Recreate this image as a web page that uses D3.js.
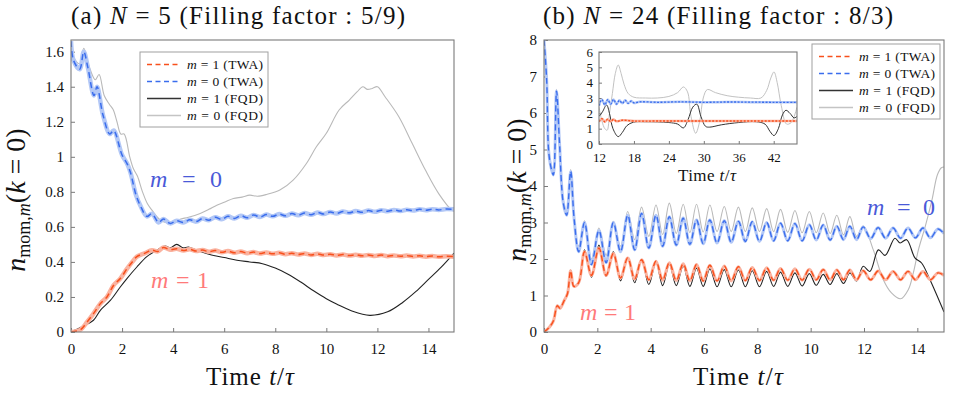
<!DOCTYPE html>
<html>
<head>
<meta charset="utf-8">
<script src="https://cdn.jsdelivr.net/npm/d3@7"></script>
<style>
body { margin: 0; background: #fff; }
</style>
</head>
<body>
<div id="chart"></div>
<script>
// values, [t, n]
var leftM0Twa = [[0,1.66],[0.1,1.55],[0.34,1.5],[0.5,1.6],[0.66,1.51],[0.9,1.35],[1.02,1.4],[1.25,1.24],[1.52,1.13],[1.67,1.15],[2.0,1.01],[2.2,0.96],[2.33,0.91],[2.55,0.78],[2.72,0.72],[2.97,0.66],[3.17,0.675],[3.43,0.625],[3.62,0.645],[3.88,0.62],[4.14,0.635],[4.4,0.625],[4.65,0.64],[4.9,0.63],[5.15,0.648],[5.4,0.638],[5.65,0.655],[5.9,0.643],[6.15,0.66],[6.4,0.648],[6.65,0.664],[6.9,0.652],[7.15,0.668],[7.4,0.656],[7.65,0.67],[7.9,0.66],[8.15,0.673],[8.4,0.663],[8.65,0.676],[8.9,0.666],[9.15,0.679],[9.4,0.669],[9.65,0.682],[9.9,0.673],[10.15,0.685],[10.4,0.676],[10.65,0.688],[10.9,0.68],[11.15,0.69],[11.4,0.683],[11.65,0.693],[11.9,0.686],[12.15,0.695],[12.4,0.689],[12.65,0.697],[12.9,0.691],[13.15,0.698],[13.4,0.693],[13.65,0.7],[13.9,0.695],[14.15,0.701],[14.4,0.697],[14.7,0.702],[15,0.7]];
var leftM0Fqd = [[0,1.66],[0.1,1.57],[0.34,1.53],[0.5,1.62],[0.7,1.52],[0.95,1.44],[1.1,1.47],[1.3,1.35],[1.5,1.3],[1.65,1.27],[1.8,1.2],[1.95,1.13],[2.08,1.13],[2.3,1.0],[2.45,0.93],[2.6,0.89],[2.8,0.8],[3.0,0.73],[3.2,0.69],[3.45,0.645],[3.7,0.625],[4.0,0.63],[4.3,0.645],[4.6,0.655],[5.06,0.677],[5.4,0.7],[5.71,0.724],[6.0,0.74],[6.36,0.762],[6.7,0.77],[7.0,0.781],[7.3,0.775],[7.66,0.785],[8.18,0.81],[8.7,0.867],[9.22,0.962],[9.61,1.057],[10.0,1.134],[10.5,1.267],[10.9,1.324],[11.2,1.37],[11.43,1.4],[11.6,1.385],[11.8,1.39],[12.0,1.4],[12.3,1.343],[12.84,1.229],[13.36,1.077],[13.88,0.924],[14.4,0.79],[14.92,0.695],[15,0.69]];
var leftM1Twa = [[0,0],[0.36,0.012],[0.63,0.057],[0.88,0.105],[1.15,0.162],[1.41,0.2],[1.67,0.267],[1.93,0.305],[2.19,0.36],[2.4,0.4],[2.58,0.43],[2.9,0.45],[3.17,0.467],[3.4,0.46],[3.62,0.482],[3.88,0.47],[4.14,0.475],[4.4,0.465],[4.65,0.472],[4.9,0.462],[5.15,0.468],[5.4,0.458],[5.65,0.465],[5.9,0.455],[6.15,0.462],[6.4,0.452],[6.65,0.459],[6.9,0.45],[7.15,0.456],[7.4,0.448],[7.65,0.454],[7.9,0.446],[8.15,0.452],[8.4,0.444],[8.65,0.45],[8.9,0.442],[9.15,0.448],[9.4,0.44],[9.65,0.446],[9.9,0.439],[10.15,0.444],[10.4,0.437],[10.65,0.442],[10.9,0.436],[11.15,0.441],[11.4,0.435],[11.65,0.44],[11.9,0.434],[12.15,0.439],[12.4,0.433],[12.65,0.437],[12.9,0.432],[13.15,0.436],[13.4,0.431],[13.65,0.435],[13.9,0.43],[14.15,0.434],[14.4,0.429],[14.7,0.433],[15,0.43]];
var leftM1Fqd = [[0,0],[0.43,0.03],[0.88,0.067],[1.15,0.124],[1.54,0.18],[1.93,0.257],[2.19,0.305],[2.58,0.371],[2.97,0.43],[3.36,0.467],[3.69,0.49],[3.88,0.48],[4.14,0.5],[4.4,0.48],[4.6,0.485],[5.0,0.462],[5.5,0.44],[6.0,0.425],[6.5,0.41],[7.0,0.4],[7.5,0.39],[8.0,0.365],[8.5,0.33],[9.0,0.285],[9.5,0.235],[10.0,0.19],[10.4,0.16],[11.0,0.12],[11.7,0.095],[12.4,0.115],[13.0,0.17],[13.5,0.23],[14.0,0.3],[14.5,0.37],[15,0.45]];

var rightM0Twa = [[0,8.0],[0.1,6.9],[0.17,5.0],[0.25,4.55],[0.35,4.3],[0.47,6.6],[0.58,5.2],[0.72,3.55],[0.85,3.2],[1.0,4.4],[1.13,3.1],[1.3,2.2],[1.52,3.0],[1.78,1.85],[2.06,2.78],[2.33,1.9],[2.6,3.0],[2.87,2.2],[3.14,3.2],[3.4,2.25],[3.66,3.25],[3.93,2.3],[4.2,3.2],[4.45,2.35],[4.7,3.16],[4.96,2.38],[5.22,3.12],[5.47,2.4],[5.72,3.07],[5.97,2.42],[6.22,3.07],[6.49,2.44],[6.76,3.05],[7.02,2.46],[7.29,3.03],[7.55,2.48],[7.81,3.02],[8.08,2.48],[8.35,3.0],[8.61,2.5],[8.87,2.98],[9.14,2.5],[9.41,2.97],[9.68,2.5],[9.95,2.94],[10.21,2.52],[10.47,2.93],[10.73,2.52],[10.98,2.9],[11.23,2.53],[11.47,2.9],[11.72,2.53],[11.97,2.88],[12.25,2.56],[12.53,2.86],[12.81,2.57],[13.09,2.85],[13.37,2.57],[13.65,2.85],[13.93,2.58],[14.21,2.85],[14.49,2.58],[14.77,2.82],[15,2.7]];
var rightM0Fqd = [[0,8.0],[0.1,7.0],[0.17,5.1],[0.25,4.65],[0.35,4.4],[0.47,6.65],[0.58,5.3],[0.72,3.65],[0.85,3.3],[1.0,4.45],[1.13,3.2],[1.3,2.35],[1.52,3.05],[1.78,2.0],[2.06,2.85],[2.33,2.1],[2.6,3.03],[2.87,2.35],[3.14,3.3],[3.4,2.53],[3.66,3.42],[3.93,2.62],[4.2,3.48],[4.45,2.67],[4.7,3.53],[4.96,2.7],[5.22,3.5],[5.47,2.72],[5.72,3.5],[5.97,2.74],[6.22,3.48],[6.49,2.75],[6.76,3.44],[7.02,2.75],[7.29,3.42],[7.55,2.75],[7.81,3.4],[8.08,2.75],[8.35,3.38],[8.61,2.75],[8.87,3.36],[9.14,2.73],[9.41,3.33],[9.68,2.72],[9.95,3.3],[10.21,2.72],[10.47,3.26],[10.73,2.7],[10.98,3.2],[11.23,2.66],[11.47,3.16],[11.72,2.62],[11.97,2.9],[12.35,2.25],[12.72,1.44],[13.03,1.07],[13.37,0.91],[13.66,1.16],[13.85,1.62],[14.04,2.25],[14.3,2.9],[14.55,3.62],[14.75,4.3],[14.9,4.5],[15,4.52]];
var rightM1Twa = [[0,0],[0.2,0.13],[0.35,0.3],[0.5,0.72],[0.6,0.65],[0.75,0.85],[0.88,1.05],[1.0,1.68],[1.12,1.25],[1.3,1.35],[1.52,2.2],[1.78,1.55],[2.06,2.3],[2.33,1.55],[2.6,2.15],[2.87,1.48],[3.14,2.03],[3.4,1.45],[3.66,1.98],[3.93,1.43],[4.2,1.94],[4.45,1.42],[4.7,1.9],[4.96,1.41],[5.22,1.87],[5.47,1.4],[5.72,1.85],[5.97,1.4],[6.22,1.83],[6.49,1.4],[6.76,1.81],[7.02,1.4],[7.29,1.79],[7.55,1.41],[7.81,1.77],[8.08,1.41],[8.35,1.76],[8.61,1.42],[8.87,1.74],[9.14,1.42],[9.41,1.73],[9.68,1.42],[9.95,1.72],[10.21,1.43],[10.47,1.71],[10.73,1.43],[10.98,1.7],[11.23,1.43],[11.47,1.7],[11.72,1.43],[11.97,1.68],[12.25,1.43],[12.53,1.67],[12.81,1.43],[13.09,1.66],[13.37,1.43],[13.65,1.66],[13.93,1.43],[14.21,1.66],[14.49,1.43],[14.77,1.62],[15,1.55]];
var rightM1Fqd = [[0,0],[0.2,0.12],[0.35,0.28],[0.5,0.73],[0.6,0.64],[0.75,0.85],[0.88,1.05],[1.0,1.7],[1.12,1.25],[1.3,1.33],[1.52,2.25],[1.78,1.5],[2.06,2.38],[2.33,1.52],[2.6,2.2],[2.87,1.4],[3.14,2.03],[3.4,1.35],[3.66,1.98],[3.93,1.3],[4.2,1.91],[4.45,1.27],[4.7,1.85],[4.96,1.27],[5.22,1.8],[5.47,1.25],[5.72,1.75],[5.97,1.25],[6.22,1.73],[6.49,1.24],[6.76,1.71],[7.02,1.24],[7.29,1.7],[7.55,1.24],[7.81,1.68],[8.08,1.24],[8.35,1.66],[8.61,1.25],[8.87,1.64],[9.14,1.25],[9.41,1.62],[9.68,1.26],[9.95,1.6],[10.21,1.28],[10.47,1.58],[10.73,1.3],[10.98,1.6],[11.23,1.33],[11.47,1.62],[11.72,1.4],[11.97,1.8],[12.22,1.66],[12.54,2.25],[12.79,2.1],[13.16,2.57],[13.35,2.44],[13.6,2.53],[13.91,2.03],[14.16,1.89],[14.47,1.44],[15,0.55]];

// inset: long-time run of N = 24
var insetM0Twa = [[12,2.5],[12.5,2.9],[13,2.55],[13.5,2.9],[14,2.6],[14.5,2.9],[15,2.6],[15.5,2.85],[16,2.65],[16.5,2.85],[17,2.65],[17.5,2.8],[18,2.68],[19,2.75],[22,2.72],[26,2.75],[30,2.72],[34,2.74],[38,2.73],[42,2.72],[46,2.72]];
var insetM1Twa = [[12,1.45],[12.5,1.65],[13,1.45],[13.5,1.62],[14,1.47],[14.5,1.6],[15,1.48],[16,1.55],[18,1.5],[22,1.5],[30,1.5],[38,1.5],[46,1.5]];
var insetM0Fqd = [[12,2.4],[12.5,1.5],[13,1.0],[13.4,0.9],[13.8,2.0],[14.3,3.3],[14.8,4.6],[15.3,5.15],[15.8,4.6],[16.3,3.9],[17,3.3],[18,3.05],[20,3.0],[22,3.0],[24,3.1],[25.5,3.35],[26.5,3.72],[27.2,3.4],[27.8,1.8],[28.6,0.7],[29.3,1.5],[29.9,3.0],[30.6,3.55],[32,3.35],[34,3.15],[36,3.05],[38,3.0],[39.8,3.0],[40.8,3.5],[41.5,4.3],[42.05,4.7],[42.6,4.0],[43.3,2.5],[44.2,1.3],[45,1.4],[46,2.4]];
var insetM1Fqd = [[12,1.8],[12.6,2.1],[13.3,2.55],[13.8,2.0],[14.4,1.0],[15.3,0.48],[16,0.75],[16.8,1.2],[17.9,1.42],[20,1.45],[24,1.4],[25.5,1.3],[26.5,1.05],[27.3,1.6],[28.1,2.4],[28.8,2.6],[29.5,1.8],[30.3,1.15],[31,1.1],[33,1.25],[36,1.4],[39,1.45],[40.5,1.3],[41.4,0.8],[42.05,0.55],[42.8,1.0],[43.5,1.9],[44.1,2.2],[44.8,2.0],[45.5,1.7],[46,1.8]];

var xTicksMain = [0, 2, 4, 6, 8, 10, 12, 14];
var yTicksLeft = [0, 0.2, 0.4, 0.6, 0.8, 1, 1.2, 1.4, 1.6];
var yTicksRight = [0, 1, 2, 3, 4, 5, 6, 7, 8];
var xTicksInset = [12, 18, 24, 30, 36, 42];
var yTicksInset = [0, 1, 2, 3, 4, 5, 6];
var legendLabels = [["m", " = 1 (TWA)"], ["m", " = 0 (TWA)"], ["m", " = 1 (FQD)"], ["m", " = 0 (FQD)"]];

var SERIF = "'Liberation Serif', 'DejaVu Serif', serif";
var RED = "#f8501c", RED_BAND = "#fab3a0", BLUE = "#3a6ded", BLUE_BAND = "#b3c8f6",
    BLACK = "#222", GRAY = "#b9b9b9", FRAME = "#7a7a7a";
var legendStyles = [
  {color: RED, dash: "5,3.5"},
  {color: BLUE, dash: "5,3.5"},
  {color: "#333", dash: null},
  {color: "#c4c4c4", dash: null}
];

var svg = d3.select("#chart").append("svg")
  .attr("width", 954).attr("height", 394)
  .style("font-family", SERIF);

// text with italic / subscript pieces
function mathText(g, parts, x, y, size, opts) {
  opts = opts || {};
  var t = g.append("text").attr("x", x).attr("y", y)
    .style("font-family", SERIF).style("font-size", size + "px")
    .style("fill", opts.color || "#111");
  if (opts.anchor) t.attr("text-anchor", opts.anchor);
  if (opts.transform) t.attr("transform", opts.transform);
  if (opts.len) t.attr("textLength", opts.len).attr("lengthAdjust", "spacing");
  parts.forEach(function(p) {
    var s = t.append("tspan").text(p.t);
    if (p.i) s.style("font-style", "italic");
    if (p.size) s.style("font-size", p.size + "px");
    if (p.dy) s.attr("dy", p.dy);
  });
  return t;
}

var clipId = 0;
function drawPanel(p) {
  var x = d3.scaleLinear().domain(p.xDomain).range(p.xRange);
  var y = d3.scaleLinear().domain(p.yDomain).range(p.yRange);
  var g = svg.append("g");
  var w = p.xRange[1] - p.xRange[0], h = p.yRange[0] - p.yRange[1];

  g.append("rect").attr("x", p.xRange[0]).attr("y", p.yRange[1])
    .attr("width", w).attr("height", h).attr("fill", "#fff");

  var xAxis = d3.axisBottom(x).tickValues(p.xTicks).tickSizeInner(-p.tick).tickSizeOuter(0)
    .tickPadding(p.xPad).tickFormat(d3.format("~g"));
  var yAxis = d3.axisLeft(y).tickValues(p.yTicks).tickSizeInner(-p.tick).tickSizeOuter(0)
    .tickPadding(p.yPad).tickFormat(d3.format("~g"));

  var gx = g.append("g").attr("transform", "translate(0," + p.yRange[0] + ")").call(xAxis);
  var gy = g.append("g").attr("transform", "translate(" + p.xRange[0] + ",0)").call(yAxis);
  [gx, gy].forEach(function(a) {
    a.select(".domain").remove();
    a.attr("font-family", SERIF).attr("font-size", p.tickFont);
    a.selectAll("line").attr("stroke", FRAME);
    a.selectAll("text").style("font-family", SERIF).style("font-size", p.tickFont + "px").style("fill", "#111");
  });

  var id = "clip" + (clipId++);
  g.append("clipPath").attr("id", id).append("rect")
    .attr("x", p.xRange[0]).attr("y", p.yRange[1]).attr("width", w).attr("height", h);
  var plot = g.append("g").attr("clip-path", "url(#" + id + ")");

  var line = d3.line()
    .x(function(d) { return x(d[0]); })
    .y(function(d) { return y(d[1]); })
    .curve(d3.curveCatmullRom.alpha(0.5));

  p.series.forEach(function(s) {
    if (s.band) {
      plot.append("path").attr("d", line(s.data)).attr("fill", "none")
        .attr("stroke", s.band).attr("stroke-width", s.bandWidth).attr("stroke-linejoin", "round");
    }
    var path = plot.append("path").attr("d", line(s.data)).attr("fill", "none")
      .attr("stroke", s.color).attr("stroke-width", s.width).attr("stroke-linejoin", "round");
    if (s.dash) path.attr("stroke-dasharray", s.dash);
  });

  g.append("rect").attr("x", p.xRange[0]).attr("y", p.yRange[1])
    .attr("width", w).attr("height", h)
    .attr("fill", "none").attr("stroke", FRAME).attr("stroke-width", 1.1);
  return g;
}

function drawLegend(x0, y0) {
  var g = svg.append("g");
  g.append("rect").attr("x", x0).attr("y", y0).attr("width", 128).attr("height", 75)
    .attr("fill", "#fff").attr("stroke", "#a0a0a0").attr("stroke-width", 1);
  legendLabels.forEach(function(lab, i) {
    var cy = y0 + 12.5 + i * 17;
    var l = g.append("line").attr("x1", x0 + 7).attr("x2", x0 + 41)
      .attr("y1", cy).attr("y2", cy)
      .attr("stroke", legendStyles[i].color).attr("stroke-width", 1.4);
    if (legendStyles[i].dash) l.attr("stroke-dasharray", legendStyles[i].dash);
    mathText(g, [{t: lab[0], i: true}, {t: lab[1]}], x0 + 47, cy + 4.5, 13.5, {len: 76});
  });
}

function twa(data, color, band, bw, dash, wd) {
  return {data: data, color: color, width: wd || 1.5, dash: dash, band: band, bandWidth: bw};
}
function fqd(data, color, wd) {
  return {data: data, color: color, width: wd || 1.1};
}

// (a) N = 5
drawPanel({
  xDomain: [0, 15], xRange: [71, 454],
  yDomain: [0, 5 / 3], yRange: [332, 40],
  xTicks: xTicksMain, yTicks: yTicksLeft, tick: 4, xPad: 11, yPad: 7, tickFont: 15,
  series: [
    fqd(leftM0Fqd, GRAY), fqd(leftM1Fqd, BLACK),
    twa(leftM0Twa, BLUE, BLUE_BAND, 4.5, "6,4"), twa(leftM1Twa, RED, RED_BAND, 4.5, "6,4")
  ]
});

// (b) N = 24
drawPanel({
  xDomain: [0, 15], xRange: [544, 944],
  yDomain: [0, 8], yRange: [332, 40],
  xTicks: xTicksMain, yTicks: yTicksRight, tick: 4, xPad: 11, yPad: 7, tickFont: 15,
  series: [
    fqd(rightM0Fqd, GRAY), fqd(rightM1Fqd, BLACK),
    twa(rightM0Twa, BLUE, BLUE_BAND, 3, "6,3.5", 1.4), twa(rightM1Twa, RED, RED_BAND, 3, "6,3.5", 1.4)
  ]
});

// inset of (b)
drawPanel({
  xDomain: [12, 46], xRange: [599, 797],
  yDomain: [0, 6], yRange: [144, 52],
  xTicks: xTicksInset, yTicks: yTicksInset, tick: 3, xPad: 9, yPad: 6, tickFont: 13,
  series: [
    fqd(insetM0Fqd, "#c2c2c2", 1), fqd(insetM1Fqd, "#333", 1),
    twa(insetM0Twa, BLUE, BLUE_BAND, 2.5, "2,1.5", 1.3), twa(insetM1Twa, RED, RED_BAND, 2.5, "2,1.5", 1.3)
  ]
});

drawLegend(140, 52);
drawLegend(812, 44);

// titles
mathText(svg, [{t: "(a) "}, {t: "N", i: true}, {t: " = 5 (Filling factor : 5/9)"}], 238, 24, 25, {anchor: "middle", len: 334});
mathText(svg, [{t: "(b) "}, {t: "N", i: true}, {t: " = 24 (Filling factor : 8/3)"}], 718, 24, 25, {anchor: "middle", len: 350});

// axis titles
var timeParts = [{t: "Time "}, {t: "t", i: true}, {t: "/"}, {t: "τ", i: true}];
mathText(svg, timeParts, 250, 385, 25, {anchor: "middle", len: 88});
mathText(svg, timeParts, 738, 385, 25, {anchor: "middle", len: 90});
mathText(svg, timeParts, 707, 181, 17, {anchor: "middle", len: 58});

function yTitle(cx, cy) {
  mathText(svg, [
    {t: "n", i: true},
    {t: "mom,", size: 18, dy: 5},
    {t: "m", i: true, size: 18},
    {t: "(", dy: -5},
    {t: "k", i: true},
    {t: " = 0)"}
  ], 0, 0, 28, {anchor: "middle", transform: "translate(" + cx + "," + cy + ") rotate(-90)"});
}
yTitle(25, 200);
yTitle(526, 190);

// curve labels
mathText(svg, [{t: "m", i: true}, {t: " = 0"}], 150, 187, 24, {color: "#4a5ad8", len: 72});
mathText(svg, [{t: "m", i: true}, {t: " = 1"}], 151, 288, 24, {color: "#ff7a7a", len: 58});
mathText(svg, [{t: "m", i: true}, {t: " = 0"}], 867, 215, 24, {color: "#4a5ad8", len: 68});
mathText(svg, [{t: "m", i: true}, {t: " = 1"}], 580, 320, 24, {color: "#ff7a7a", len: 56});
</script>
</body>
</html>
